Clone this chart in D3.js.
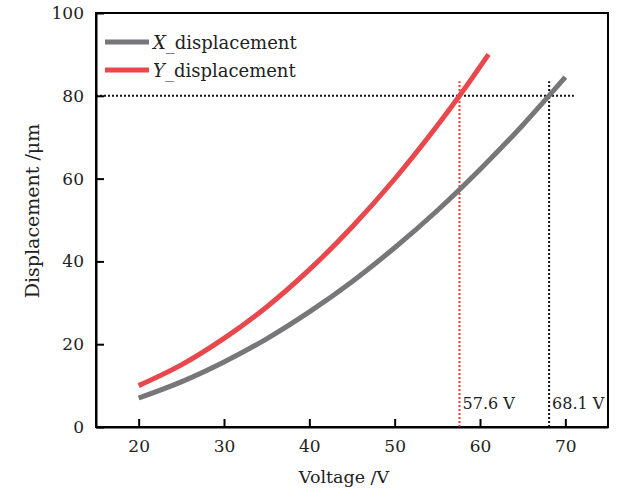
<!DOCTYPE html>
<html>
<head>
<meta charset="utf-8">
<script src="https://cdn.jsdelivr.net/npm/d3@7"></script>
<style>
  body { margin: 0; background: #fff; }
  svg { display: block; font-family: 'DejaVu Serif', serif; }
</style>
</head>
<body>
<svg width="619" height="491"></svg>
<script>
// voltage samples (V) and displacements (μm)
const voltageX = [20, 25, 30, 35, 40, 45, 50, 55, 60, 65, 70]
const xDisp = [7.0, 10.9, 15.7, 21.3, 27.8, 35.1, 43.3, 52.3, 62.2, 72.9, 84.5]
const voltageY = [20, 25, 30, 35, 40, 45, 50, 55, 57.6, 61]
const yDisp = [10.0, 15.0, 21.4, 29.0, 38.0, 48.3, 59.9, 72.8, 80.0, 90.0]
const xTicks = [20, 30, 40, 50, 60, 70]
const yTicks = [0, 20, 40, 60, 80, 100]
const marks = [
  { v: 57.6, label: '57.6 V', color: '#f03a32' },
  { v: 68.1, label: '68.1 V', color: '#111' },
]
const target = 80

const margin = { top: 13, right: 11, bottom: 64, left: 96 }
const width = 619, height = 491
const gray = '#77777a', red = '#e8474b', ink = '#222'

const svg = d3.select('svg')
const x = d3.scaleLinear().domain([15, 75]).range([margin.left, width - margin.right])
const y = d3.scaleLinear().domain([0, 100]).range([height - margin.bottom, margin.top])

// box
svg.append('rect')
  .attr('x', x(15)).attr('y', y(100))
  .attr('width', x(75) - x(15)).attr('height', y(0) - y(100))
  .attr('fill', 'none').attr('stroke', '#000').attr('stroke-width', 2)

// reference lines
svg.append('line')
  .attr('x1', x(15)).attr('x2', x(71))
  .attr('y1', y(target)).attr('y2', y(target))
  .attr('stroke', '#111').attr('stroke-width', 2).attr('stroke-dasharray', '2,2')

svg.selectAll('line.mark').data(marks).join('line')
  .classed('mark', true)
  .attr('x1', d => x(d.v)).attr('x2', d => x(d.v))
  .attr('y1', y(0)).attr('y2', y(83.5))
  .attr('stroke', d => d.color).attr('stroke-width', 2).attr('stroke-dasharray', '2,2')

svg.selectAll('text.mark').data(marks).join('text')
  .classed('mark', true)
  .attr('x', d => x(d.v) + 3).attr('y', y(0) - 18)
  .attr('font-size', 16)
  .attr('fill', ink)
  .text(d => d.label)

// curves
const line = d3.line().x(d => x(d[0])).y(d => y(d[1])).curve(d3.curveMonotoneX)
const series = [
  { name: 'X', pts: d3.zip(voltageX, xDisp), color: gray },
  { name: 'Y', pts: d3.zip(voltageY, yDisp), color: red },
]
svg.selectAll('path.curve').data(series).join('path')
  .classed('curve', true)
  .attr('d', d => line(d.pts))
  .attr('fill', 'none')
  .attr('stroke', d => d.color)
  .attr('stroke-width', 5)

// axes
const xAxis = svg.append('g')
  .attr('transform', `translate(0,${ y(0) })`)
  .call(d3.axisBottom(x).tickValues(xTicks).tickSizeInner(-8).tickSizeOuter(0).tickPadding(13))
const yAxis = svg.append('g')
  .attr('transform', `translate(${ x(15) },0)`)
  .call(d3.axisLeft(y).tickValues(yTicks).tickSizeInner(-8).tickSizeOuter(0).tickPadding(12))
;[xAxis, yAxis].forEach(g => {
  g.select('.domain').attr('stroke-width', 2)
  g.selectAll('.tick line').attr('stroke-width', 2)
  g.selectAll('.tick text').attr('font-size', 17).attr('font-family', 'DejaVu Serif').attr('fill', ink)
})

svg.append('text')
  .attr('x', 344).attr('y', height - 8)
  .attr('text-anchor', 'middle').attr('font-size', 17.5).attr('fill', ink)
  .text('Voltage /V')

svg.append('text')
  .attr('transform', `translate(39,${ (y(0) + y(100)) / 2 - 9 }) rotate(-90)`)
  .attr('text-anchor', 'middle').attr('font-size', 19).attr('fill', ink)
  .text('Displacement /μm')

// legend
const legend = svg.append('g').attr('transform', 'translate(105,42)')
const items = legend.selectAll('g').data(series).join('g')
  .attr('transform', (d, i) => `translate(0,${ i * 28 })`)
items.append('line')
  .attr('x1', 0).attr('x2', 44)
  .attr('stroke', d => d.color).attr('stroke-width', 5)
items.append('text')
  .attr('x', 48).attr('y', 7)
  .attr('font-size', 18).attr('fill', ink)
  .call(t => t.append('tspan').attr('font-style', 'italic').text(d => d.name))
  .call(t => t.append('tspan').text('_displacement'))
</script>
</body>
</html>
